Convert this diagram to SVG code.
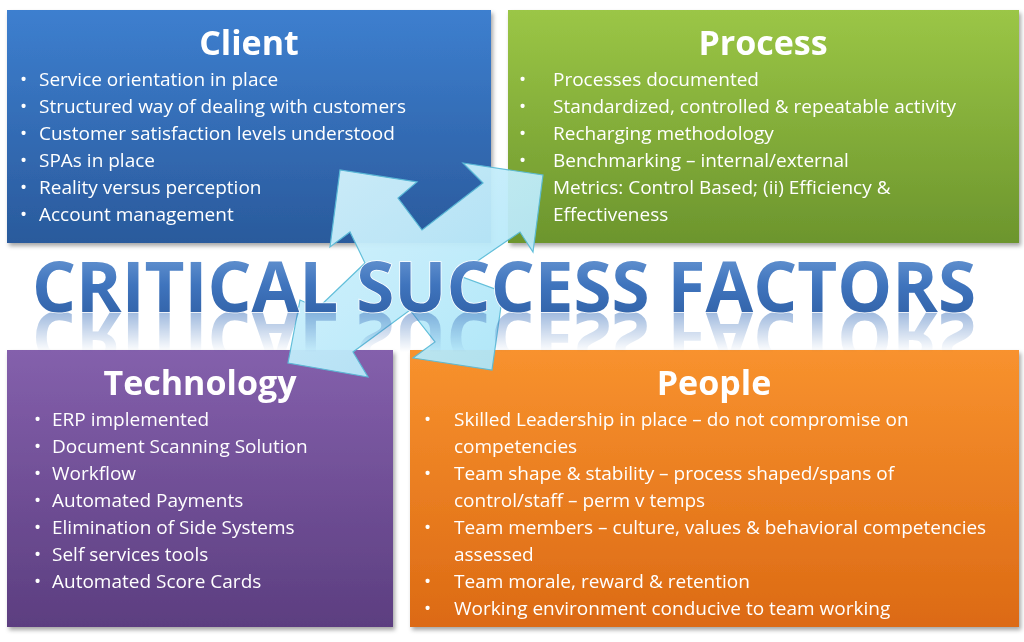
<svg xmlns="http://www.w3.org/2000/svg" width="1024" height="642" viewBox="0 0 1024 642">
<defs>
<linearGradient id="gB" x1="0" y1="0" x2="0" y2="1"><stop offset="0" stop-color="#3d7fcf"/><stop offset="1" stop-color="#2a5a9c"/></linearGradient>
<linearGradient id="gG" x1="0" y1="0" x2="0" y2="1"><stop offset="0" stop-color="#9bc646"/><stop offset="1" stop-color="#6c952d"/></linearGradient>
<linearGradient id="gP" x1="0" y1="0" x2="0" y2="1"><stop offset="0" stop-color="#8460ac"/><stop offset="1" stop-color="#5c3e80"/></linearGradient>
<linearGradient id="gO" x1="0" y1="0" x2="0" y2="1"><stop offset="0" stop-color="#f8922e"/><stop offset="1" stop-color="#dc6a14"/></linearGradient>
<linearGradient id="gA" x1="0" y1="0" x2="1" y2="1"><stop offset="0" stop-color="#d8f4fd"/><stop offset="1" stop-color="#a8e4f8"/></linearGradient>
<linearGradient id="gT" x1="0" y1="0" x2="0" y2="1"><stop offset="0" stop-color="#7aa6dc"/><stop offset="0.5" stop-color="#3f74bd"/><stop offset="1" stop-color="#2b5a9e"/></linearGradient>
<linearGradient id="gR" x1="0" y1="0" x2="0" y2="1"><stop offset="0" stop-color="#fff" stop-opacity="0.5"/><stop offset="1" stop-color="#fff" stop-opacity="0"/></linearGradient>
<mask id="mR"><rect x="0" y="312" width="1024" height="40" fill="url(#gR)"/></mask>
<filter id="sh" x="-5%" y="-5%" width="110%" height="115%"><feDropShadow dx="2" dy="3" stdDeviation="2" flood-opacity="0.35"/></filter>
</defs>
<style>
.t{font-family:"Open Sans","Liberation Sans",sans-serif;fill:#fff;font-size:19px}
.h{font-family:"Open Sans","Liberation Sans",sans-serif;fill:#fff;font-size:34px;font-weight:bold;text-anchor:middle}
.ttl{font-family:"Open Sans","Liberation Sans",sans-serif;font-size:70px;font-weight:bold}
</style>
<rect width="1024" height="642" fill="#fff"/>
<g id="client" filter="url(#sh)">
<rect x="7" y="10" width="484" height="233" fill="url(#gB)"/>
<text class="h" x="249" y="55">Client</text>
<text class="t"><tspan x="20" y="86">•</tspan><tspan x="39" y="86">Service orientation in place</tspan><tspan x="20" y="113">•</tspan><tspan x="39" y="113">Structured way of dealing with customers</tspan><tspan x="20" y="140">•</tspan><tspan x="39" y="140">Customer satisfaction levels understood</tspan><tspan x="20" y="167">•</tspan><tspan x="39" y="167">SPAs in place</tspan><tspan x="20" y="194">•</tspan><tspan x="39" y="194">Reality versus perception</tspan><tspan x="20" y="221">•</tspan><tspan x="39" y="221">Account management</tspan></text>
</g>
<g id="process" filter="url(#sh)">
<rect x="508" y="10" width="511" height="233" fill="url(#gG)"/>
<text class="h" x="763" y="55">Process</text>
<text class="t"><tspan x="519" y="86">•</tspan><tspan x="553" y="86">Processes documented</tspan><tspan x="519" y="113">•</tspan><tspan x="553" y="113">Standardized, controlled &amp; repeatable activity</tspan><tspan x="519" y="140">•</tspan><tspan x="553" y="140">Recharging methodology</tspan><tspan x="519" y="167">•</tspan><tspan x="553" y="167">Benchmarking – internal/external</tspan><tspan x="553" y="194">Metrics: Control Based;  (ii) Efficiency &amp;</tspan><tspan x="553" y="221">Effectiveness</tspan></text>
</g>
<g id="technology" filter="url(#sh)">
<rect x="7" y="350" width="386" height="277" fill="url(#gP)"/>
<text class="h" x="200" y="395">Technology</text>
<text class="t"><tspan x="34" y="426">•</tspan><tspan x="52" y="426">ERP implemented</tspan><tspan x="34" y="453">•</tspan><tspan x="52" y="453">Document Scanning Solution</tspan><tspan x="34" y="480">•</tspan><tspan x="52" y="480">Workflow</tspan><tspan x="34" y="507">•</tspan><tspan x="52" y="507">Automated Payments</tspan><tspan x="34" y="534">•</tspan><tspan x="52" y="534">Elimination of Side Systems</tspan><tspan x="34" y="561">•</tspan><tspan x="52" y="561">Self services tools</tspan><tspan x="34" y="588">•</tspan><tspan x="52" y="588">Automated Score Cards</tspan></text>
</g>
<g id="people" filter="url(#sh)">
<rect x="410" y="350" width="609" height="277" fill="url(#gO)"/>
<text class="h" x="714" y="395">People</text>
<text class="t"><tspan x="424" y="426">•</tspan><tspan x="454" y="426">Skilled Leadership in place – do not compromise on</tspan><tspan x="454" y="453">competencies</tspan><tspan x="424" y="480">•</tspan><tspan x="454" y="480">Team shape &amp; stability – process shaped/spans of</tspan><tspan x="454" y="507">control/staff – perm v temps</tspan><tspan x="424" y="534">•</tspan><tspan x="454" y="534">Team members – culture, values &amp; behavioral competencies</tspan><tspan x="454" y="561">assessed</tspan><tspan x="424" y="588">•</tspan><tspan x="454" y="588">Team morale, reward &amp; retention</tspan><tspan x="424" y="615">•</tspan><tspan x="454" y="615">Working environment conducive to team working</tspan></text>
</g>
<g id="connectors">
<polygon points="543,175 533,252 520,232 457,275 503,292 492,370 413,358 435,342 410,310 353,352 368,377 288,363 300,300 318,308 365,263 350,232 330,247 340,170 417,182 398,198 422,230 483,183 463,163" fill="url(#gA)" stroke="#5bbcd8" stroke-width="1.2" opacity="0.95"/>
</g>
<g id="title">
<g mask="url(#mR)"><text class="ttl" x="32" y="312" textLength="944" lengthAdjust="spacingAndGlyphs" fill="#3f74bd" transform="translate(0,624) scale(1,-1)">CRITICAL SUCCESS FACTORS</text></g>
<text class="ttl" x="32" y="312" textLength="944" lengthAdjust="spacingAndGlyphs" fill="url(#gT)" stroke="#fff" stroke-width="1.5" paint-order="stroke">CRITICAL SUCCESS FACTORS</text>
</g>
</svg>
